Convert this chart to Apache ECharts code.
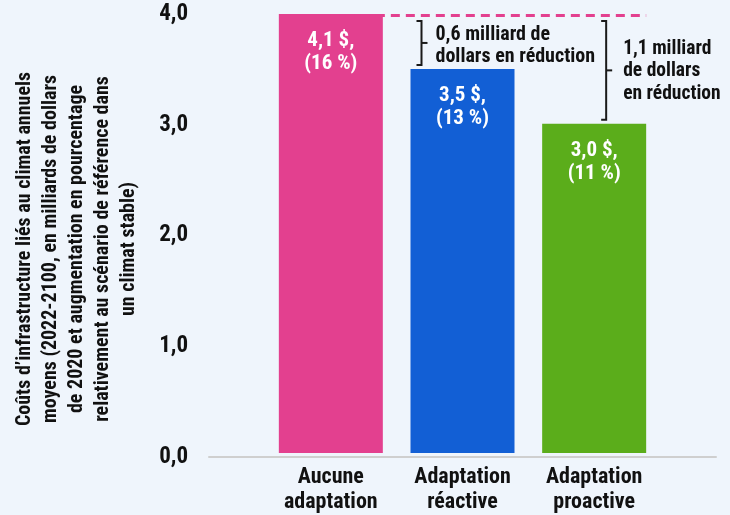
<!DOCTYPE html>
<html>
<head>
<meta charset="utf-8">
<script src="https://cdn.jsdelivr.net/npm/echarts@6/dist/echarts.min.js"></script>
<style>
  html, body { margin: 0; padding: 0; background: #EFF5FC; }
  #chart { width: 730px; height: 515px; }
</style>
</head>
<body>
<div id="chart"></div>
<script>
// Scenario data: annual climate-related infrastructure costs (billions $) and % increase
const categories = ['Aucune\nadaptation', 'Adaptation\nréactive', 'Adaptation\nproactive'];
const costs = [4.1, 3.5, 3.0];
const percents = [16, 13, 11];
const barColors = ['#E3408F', '#125FD5', '#5BAD1B'];
const yTicks = [0, 1, 2, 3, 4];
const yTitle = 'Coûts d’infrastructure liés au climat annuels\nmoyens (2022-2100, en milliards de dollars\nde 2020 et augmentation en pourcentage\nrelativement au scénario de référence dans\nun climat stable)';
// Reference level drawn as a dashed line (no-adaptation cost, shown at the axis top)
const referenceLevel = 4.0;
// Savings brackets: category index of the compared scenario
const savingsTargets = [1, 2];
const savingsTemplates = ['{d} milliard de\ndollars en réduction', '{d} milliard\nde dollars\nen réduction'];

const FONT = '"Roboto Condensed", "Open Sans Condensed", "Liberation Sans", Arial, sans-serif';
const fmt = v => v.toFixed(1).replace('.', ',');

const chart = echarts.init(document.getElementById('chart'));

// Horizontal placement of each bracket relative to its category centre (px)
const bracketOffsets = [-41, 12];
const textGaps = [14, 17];
const textSizes = [20, 19.5];

const bracketData = savingsTargets.map((idx, i) => [idx, referenceLevel, costs[idx], i]);

chart.setOption({
  backgroundColor: '#EFF5FC',
  animation: false,
  grid: [
    { left: 209, right: 14, top: 14, bottom: 58 },
    { left: 265, right: 70, top: 14, bottom: 58 }
  ],
  xAxis: [
    { gridIndex: 0, type: 'category', data: [''],
      axisLine: { show: true, lineStyle: { color: '#CFCFCF', width: 2 } },
      axisTick: { show: false }, axisLabel: { show: false } },
    { gridIndex: 1, type: 'category', data: categories,
      axisLine: { show: false }, axisTick: { show: false },
      axisLabel: { interval: 0, margin: 12, color: '#111', fontFamily: FONT, fontWeight: 'bold', fontSize: 22, lineHeight: 25 } }
  ],
  yAxis: [
    { gridIndex: 0, type: 'value', min: yTicks[0], max: yTicks[yTicks.length - 1], interval: 1,
      axisLine: { show: false }, axisTick: { show: false }, splitLine: { show: false },
      axisLabel: { margin: 21, color: '#111', fontFamily: FONT, fontWeight: 'bold', fontSize: 23, formatter: fmt } },
    { gridIndex: 1, type: 'value', min: yTicks[0], max: yTicks[yTicks.length - 1], interval: 1, show: false }
  ],
  graphic: [{
    type: 'text', x: 77, y: 249, rotation: Math.PI / 2,
    style: { text: yTitle, fill: '#111', font: 'bold 20px ' + FONT, align: 'center', verticalAlign: 'middle', lineHeight: 26 }
  }],
  series: [
    {
      type: 'bar', xAxisIndex: 1, yAxisIndex: 1, barWidth: 104, clip: true,
      data: costs.map((v, i) => ({ value: v, itemStyle: { color: barColors[i] } })),
      label: {
        show: true, position: 'insideTop', distance: 15, color: '#fff',
        fontFamily: FONT, fontWeight: 'bold', fontSize: 21, lineHeight: 23,
        formatter: p => fmt(p.value) + ' $,\n(' + percents[p.dataIndex] + ' %)'
      }
    },
    {
      // dashed reference line from the first scenario across to the last bar
      type: 'custom', xAxisIndex: 1, yAxisIndex: 1, z: 5,
      data: [[0, referenceLevel]],
      renderItem: (params, api) => {
        const start = api.coord([0, api.value(1)]);
        const end = api.coord([categories.length - 1, api.value(1)]);
        const half = 52;
        return {
          type: 'line',
          shape: { x1: start[0], y1: start[1] + 1.5, x2: end[0] + half, y2: end[1] + 1.5 },
          style: { stroke: '#E3408F', lineWidth: 3, lineDash: [9, 6] }
        };
      }
    },
    {
      // savings brackets with their annotation text
      type: 'custom', xAxisIndex: 1, yAxisIndex: 1, z: 5,
      data: bracketData,
      renderItem: (params, api) => {
        const i = api.value(3);
        const top = api.coord([api.value(0), api.value(1)]);
        const bot = api.coord([api.value(0), api.value(2)]);
        const x = top[0] + bracketOffsets[i];
        const y1 = top[1] + 7, y2 = bot[1] - 4, mid = (y1 + y2) / 2;
        const saving = (costs[0] - api.value(2)).toFixed(1).replace('.', ',');
        return {
          type: 'group',
          children: [
            { type: 'polyline', shape: { points: [[x - 5, y1], [x, y1], [x, y2], [x - 5, y2]] },
              style: { stroke: '#1A1A1A', lineWidth: 2, fill: null } },
            { type: 'line', shape: { x1: x, y1: mid, x2: x + 6, y2: mid },
              style: { stroke: '#1A1A1A', lineWidth: 2 } },
            { type: 'text', x: x + textGaps[i], y: mid + (i === 0 ? 3 : 1),
              style: { text: savingsTemplates[i].replace('{d}', saving), fill: '#111',
                       font: 'bold ' + textSizes[i] + 'px ' + FONT, align: 'left', verticalAlign: 'middle', lineHeight: 22.5 } }
          ]
        };
      }
    }
  ]
});
</script>
</body>
</html>
